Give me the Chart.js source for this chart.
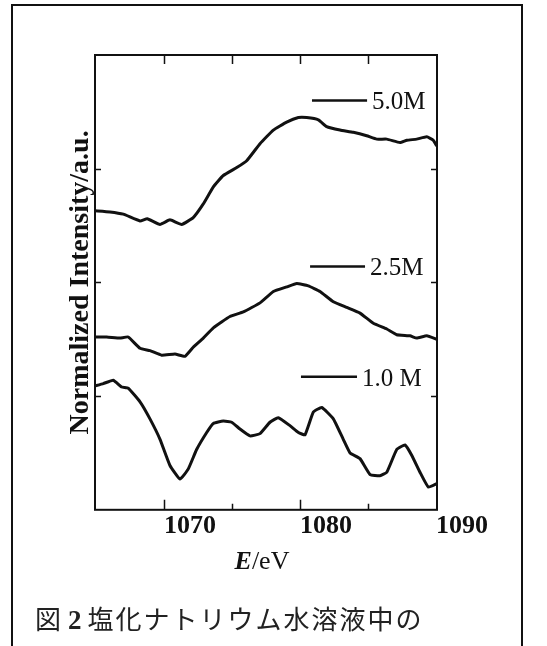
<!DOCTYPE html>
<html>
<head>
<meta charset="utf-8">
<script src="https://cdn.jsdelivr.net/npm/chart.js@4.4.0/dist/chart.umd.min.js"></script>
<style>
  html, body { margin: 0; padding: 0; background: #fff; overflow: hidden; }
  #frame { position: absolute; left: 11px; top: 4px; width: 508px; height: 700px; border: 2px solid #111; }
  #wrap { position: absolute; left: 0; top: 0; width: 547px; height: 600px; }
  #caption { position: absolute; left: 35px; top: 605px; font-family: "Noto Sans CJK JP", sans-serif; font-size: 26px; line-height: 26px; color: #222; white-space: nowrap; }
  #caption b { font-family: "Liberation Serif", serif; font-size: 27px; margin-left: 7px; margin-right: 6px; }
  #caption .rest { letter-spacing: 2px; }
</style>
</head>
<body>
<div id="frame"></div>
<div id="wrap"><canvas id="chart-xanes"></canvas></div>
<div id="caption"><span>図</span><b>2</b><span class="rest">塩化ナトリウム水溶液中の</span></div>
<script>
// spectra (energy in eV, offset intensity)
var e50 = [1064.93, 1066.03, 1067.01, 1068.24, 1068.77, 1069.71, 1070.44, 1071.30, 1072.15, 1072.89, 1073.63, 1074.36, 1075.35, 1076.08, 1077.06, 1078.04, 1079.02, 1079.88, 1080.49, 1081.35, 1081.96, 1082.94, 1083.92, 1084.90, 1085.64, 1086.38, 1087.35, 1087.85, 1088.58, 1089.32, 1089.80, 1090.05];
var i50 = [2.63, 2.62, 2.60, 2.54, 2.56, 2.51, 2.55, 2.51, 2.57, 2.69, 2.84, 2.94, 3.01, 3.07, 3.22, 3.34, 3.41, 3.45, 3.45, 3.43, 3.37, 3.34, 3.32, 3.29, 3.26, 3.26, 3.23, 3.25, 3.26, 3.28, 3.25, 3.20];

var e25 = [1064.93, 1065.79, 1066.76, 1067.37, 1068.24, 1068.97, 1069.83, 1070.81, 1071.54, 1072.15, 1072.89, 1073.63, 1074.85, 1075.83, 1077.06, 1078.04, 1079.02, 1079.76, 1080.61, 1081.47, 1082.45, 1083.43, 1084.41, 1085.39, 1086.38, 1087.11, 1088.09, 1088.58, 1089.32, 1090.05];
var i25 = [1.52, 1.52, 1.51, 1.52, 1.42, 1.40, 1.36, 1.37, 1.35, 1.43, 1.51, 1.60, 1.70, 1.74, 1.82, 1.92, 1.96, 1.99, 1.97, 1.92, 1.83, 1.78, 1.73, 1.64, 1.59, 1.54, 1.53, 1.51, 1.53, 1.50];

var e10 = [1064.93, 1065.54, 1066.27, 1066.89, 1067.37, 1068.24, 1068.97, 1069.71, 1070.44, 1071.18, 1071.79, 1072.40, 1073.14, 1073.63, 1074.36, 1074.98, 1075.59, 1076.32, 1077.06, 1077.79, 1078.40, 1079.26, 1079.88, 1080.37, 1080.98, 1081.60, 1082.45, 1083.18, 1083.68, 1084.41, 1085.15, 1085.88, 1086.38, 1087.11, 1087.72, 1088.21, 1088.82, 1089.43, 1090.05];
var i10 = [1.09, 1.11, 1.14, 1.08, 1.07, 0.95, 0.80, 0.62, 0.39, 0.27, 0.36, 0.53, 0.68, 0.76, 0.78, 0.77, 0.71, 0.65, 0.67, 0.77, 0.81, 0.74, 0.68, 0.66, 0.86, 0.90, 0.80, 0.62, 0.50, 0.45, 0.31, 0.30, 0.33, 0.53, 0.57, 0.48, 0.33, 0.20, 0.23];

var seriesNames = ['5.0M', '2.5M', '1.0 M'];
var xTicks = [1065, 1070, 1075, 1080, 1085, 1090];
var xLabels = ['', '1070', '', '1080', '', '1090'];
var yTicks = [1, 2, 3];

function pts(xs, ys) {
  return xs.map(function (x, i) { return {x: x, y: ys[i]}; });
}

// frame, inward ticks on all sides, in-plot labels, and the E/eV title
var framePlugin = {
  id: 'frame',
  afterDraw: function (chart, args, opts) {
    var ctx = chart.ctx, a = chart.chartArea;
    var xs = chart.scales.x, ys = chart.scales.y;
    ctx.save();
    ctx.strokeStyle = '#111';
    ctx.lineWidth = 2;
    ctx.strokeRect(a.left, a.top, a.right - a.left, a.bottom - a.top);

    ctx.lineWidth = 1.5;
    ctx.beginPath();
    xTicks.forEach(function (v, i) {
      var px = Math.round(xs.getPixelForValue(v)) + 0.5;
      if (px <= a.left + 2 || px >= a.right - 2) return;
      var len = xLabels[i] ? 10 : 6;
      ctx.moveTo(px, a.bottom); ctx.lineTo(px, a.bottom - len);
      ctx.moveTo(px, a.top); ctx.lineTo(px, a.top + 9);
    });
    yTicks.forEach(function (v) {
      var py = Math.round(ys.getPixelForValue(v)) + 0.5;
      ctx.moveTo(a.left, py); ctx.lineTo(a.left + 6, py);
      ctx.moveTo(a.right, py); ctx.lineTo(a.right - 6, py);
    });
    ctx.stroke();

    // series labels inside the plot
    ctx.fillStyle = '#111';
    ctx.font = '25px "Liberation Serif", serif';
    ctx.textBaseline = 'alphabetic';
    ctx.textAlign = 'left';
    opts.marks.forEach(function (m, i) {
      var x0 = xs.getPixelForValue(m.x0), x1 = xs.getPixelForValue(m.x1);
      var py = ys.getPixelForValue(m.y);
      ctx.lineWidth = 2.5;
      ctx.beginPath(); ctx.moveTo(x0, py); ctx.lineTo(x1, py); ctx.stroke();
      ctx.fillText(seriesNames[i], x1 + 5, py + 9);
    });

    // x axis title: bold italic E + /eV
    ctx.font = 'italic bold 26px "Liberation Serif", serif';
    var w1 = ctx.measureText('E').width;
    ctx.font = '26px "Liberation Serif", serif';
    var w2 = ctx.measureText('/eV').width;
    var cx = (a.left + a.right) / 2 - 4;
    var ty = a.bottom + 59;
    var sx = cx - (w1 + w2) / 2;
    ctx.font = 'italic bold 26px "Liberation Serif", serif';
    ctx.fillText('E', sx, ty);
    ctx.font = '26px "Liberation Serif", serif';
    ctx.fillText('/eV', sx + w1, ty);
    ctx.restore();
  }
};

var lineStyle = {borderColor: '#111', borderWidth: 3, pointRadius: 0, tension: 0.12, fill: false};

var config = {
  type: 'line',
  data: {
    datasets: [
      Object.assign({label: seriesNames[0], data: pts(e50, i50)}, lineStyle),
      Object.assign({label: seriesNames[1], data: pts(e25, i25)}, lineStyle),
      Object.assign({label: seriesNames[2], data: pts(e10, i10)}, lineStyle)
    ]
  },
  options: {
    responsive: false,
    animation: false,
    layout: {padding: {left: 49, top: 55, right: 110, bottom: 57}},
    plugins: {
      legend: {display: false},
      tooltip: {enabled: false},
      frame: {
        marks: [
          {x0: 1080.88, x1: 1084.93, y: 3.60},
          {x0: 1080.74, x1: 1084.78, y: 2.14},
          {x0: 1080.07, x1: 1084.19, y: 1.17}
        ]
      }
    },
    scales: {
      x: {
        type: 'linear',
        min: 1064.93,
        max: 1090.07,
        grid: {display: false, drawTicks: false},
        border: {display: false},
        afterBuildTicks: function (scale) {
          scale.ticks = xTicks.map(function (v) { return {value: v}; });
        },
        ticks: {
          autoSkip: false,
          maxRotation: 0,
          padding: 1,
          labelOffset: 26,
          color: '#111',
          font: {family: '"Liberation Serif", serif', size: 26, weight: 'bold'},
          callback: function (v) {
            var i = xTicks.indexOf(v);
            return i >= 0 ? xLabels[i] : '';
          }
        }
      },
      y: {
        type: 'linear',
        min: 0,
        max: 4,
        grid: {display: false, drawTicks: false},
        border: {display: false},
        ticks: {display: false},
        title: {
          display: true,
          text: 'Normalized Intensity/a.u.',
          color: '#111',
          padding: {top: 18, bottom: 0},
          font: {family: '"Liberation Serif", serif', size: 28, weight: 'bold', lineHeight: 1}
        }
      }
    }
  },
  plugins: [framePlugin]
};

var canvas = document.getElementById('chart-xanes');
canvas.width = 547;
canvas.height = 600;
var ctx = canvas.getContext('2d');
window.myChart = new Chart(ctx, config);
</script>
</body>
</html>
